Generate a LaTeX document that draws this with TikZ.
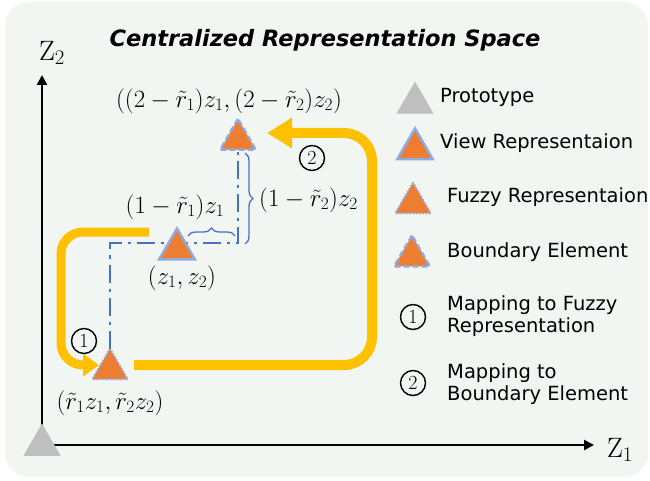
\documentclass[tikz,border=0pt]{standalone}
\usepackage{amsmath}
\usepackage{fontspec}
\newfontfamily\legendfont{DejaVu Sans}
\usetikzlibrary{arrows.meta, shapes.geometric, decorations.pathreplacing}
\usepackage{xcolor}

\definecolor{bgPanel}{HTML}{F2F6F3}
\definecolor{repOrange}{HTML}{ED7D31}
\definecolor{edgeBlue}{HTML}{8FAADC}
\definecolor{pathBlue}{HTML}{4472C4}
\definecolor{mapYellow}{HTML}{FFC000}
\definecolor{protoGray}{HTML}{BFBFBF}

\begin{document}
\begin{tikzpicture}[
    x=1pt, y=-1pt,
    tri/.style={regular polygon, regular polygon sides=3, minimum size=41pt, inner sep=0pt, outer sep=0pt},
    protoTri/.style={tri, minimum size=43pt, fill=protoGray},
    viewTri/.style={tri, fill=repOrange, draw=edgeBlue, line width=2.5pt},
    fuzzyTri/.style={tri, fill=repOrange, draw=edgeBlue, line width=2pt, dash pattern=on 1.5pt off 1.8pt},
    boundTri/.style={tri, fill=repOrange, draw=edgeBlue, line width=2.5pt, dash pattern=on 6pt off 3pt},
    axisLine/.style={line width=2.6pt, -{Triangle[length=10pt, width=10pt]}},
    gridPath/.style={draw=pathBlue, line width=2.7pt, dash pattern=on 18pt off 6pt on 3pt off 6pt},
    gapBrace/.style={draw=pathBlue, line width=1.3pt, decorate, decoration={brace, amplitude=8pt}},
    mapArrow/.style={draw=mapYellow, line width=9pt},
    mathLbl/.style={font=\fontsize{23}{27}\selectfont, inner sep=0pt},
    axisLbl/.style={font=\fontsize{28}{30}\selectfont, inner sep=0pt},
    legendText/.style={font=\legendfont\fontsize{19.5}{22}\selectfont, align=left, anchor=west, inner sep=0pt},
    circNum/.style={circle, draw=black, line width=1.4pt, minimum size=25pt, inner sep=0pt, font=\fontsize{20}{20}\selectfont}
]
    \useasboundingbox (0,0) rectangle (650,481);
    \fill[bgPanel, rounded corners=24pt] (5,2) rectangle (648,477);

    \node[font=\legendfont\bfseries\itshape\fontsize{22.5}{27}\selectfont] (title) at (325,40) {Centralized Representation Space};

    % axes
    \coordinate (origin) at (42,445);
    \coordinate (z1tip) at (594,445);
    \coordinate (z2tip) at (42,75);
    \draw[axisLine] (origin) -- (z1tip);
    \draw[axisLine] (origin) -- (z2tip);
    \node[axisLbl] (z1lbl) at (620,450) {$\mathrm{Z}_1$};
    \node[axisLbl] (z2lbl) at (52,53) {$\mathrm{Z}_2$};
    \node[protoTri] (proto) at (origin) {};

    % representations
    \node[fuzzyTri] (fuzzy) at (110,369) {};
    \node[boundTri] (bound) at (238,139.5) {};
    \coordinate (bendL) at (110,243);
    \coordinate (bendR) at (238,243);
    \draw[gridPath] (fuzzy.north) -- (bendL) -- (bendR) -- (bound.south);
    \node[viewTri] (view) at (177,249) {};

    \draw[gapBrace] (188,236) -- (235,236);
    \draw[gapBrace] (245,153) -- (245,244);

    \node[mathLbl] (bndLbl) at (229,101) {$((2-\tilde{r}_1)z_1,(2-\tilde{r}_2)z_2)$};
    \node[mathLbl] (dxLbl) at (175,207) {$(1-\tilde{r}_1)z_1$};
    \node[mathLbl] (viewLbl) at (182,278) {$(z_1,z_2)$};
    \node[mathLbl, anchor=west] (dyLbl) at (259,200) {$(1-\tilde{r}_2)z_2$};
    \node[mathLbl] (fuzzyLbl) at (110,403) {$(\tilde{r}_1z_1,\tilde{r}_2z_2)$};

    % mappings
    \coordinate (start1) at (149,232);
    \coordinate (loop1) at (61,232);
    \coordinate (tip1) at (99,365);
    \draw[mapArrow, -{Triangle[length=16pt, width=22pt]}, rounded corners=22pt] (start1) -- (loop1) |- (tip1);
    \coordinate (start2) at (134,365);
    \coordinate (loop2) at (372,133);
    \coordinate (tip2) at (267,133);
    \draw[mapArrow, line width=10pt, -{Triangle[length=25pt, width=29pt]}, rounded corners=28pt] (start2) -| (loop2) -- (tip2);
    \node[circNum] (step1) at (84,341) {1};
    \node[circNum] (step2) at (312,158) {2};

    % legend
    \node[protoTri] (lgProto) at (415,103) {};
    \node[viewTri] (lgView) at (415,149) {};
    \node[fuzzyTri] (lgFuzzy) at (413,203) {};
    \node[boundTri] (lgBound) at (412,256) {};
    \node[circNum] (lgStep1) at (413,317) {1};
    \node[circNum] (lgStep2) at (413,383) {2};
    \node[legendText] (txProto) at (440,97) {Prototype};
    \node[legendText] (txView) at (440,143) {View Representaion};
    \node[legendText] (txFuzzy) at (447,197) {Fuzzy Representaion};
    \node[legendText] (txBound) at (447,252) {Boundary Element};
    \node[legendText] (txStep1) at (447,316) {Mapping to Fuzzy\\Representation};
    \node[legendText] (txStep2) at (447,384) {Mapping to\\Boundary Element};
\end{tikzpicture}
\end{document}
